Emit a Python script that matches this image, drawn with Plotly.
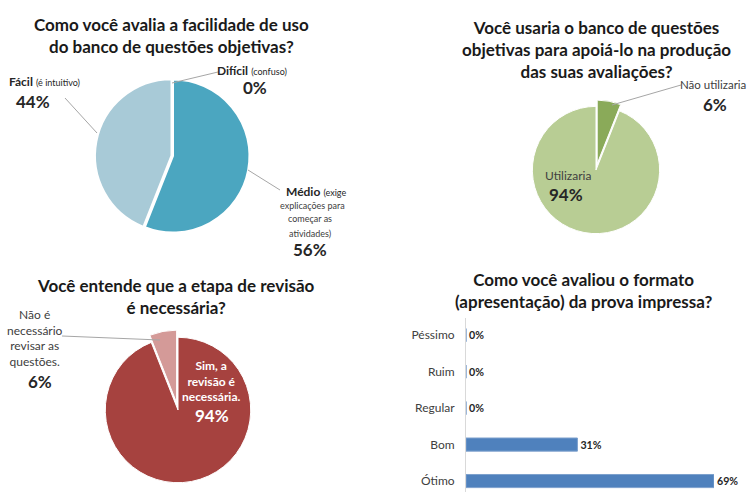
import plotly.graph_objects as go

W, H = 747, 492
FONT = "Lato"

# ---------------- data ----------------
q1_labels = ["Difícil", "Médio", "Fácil"]
q1_notes = ["(confuso)", "(exige", "explicações para", "começar as", "atividades)", "(é intuitivo)"]
q1_values = [0, 56, 44]

q2_labels = ["Não utilizaria", "Utilizaria"]
q2_values = [6, 94]

q3_labels = ["Sim, a revisão é necessária.", "Não é necessário revisar as questões."]
q3_values = [94, 6]

q4_categories = ["Péssimo", "Ruim", "Regular", "Bom", "Ótimo"]
q4_values = [0, 0, 0, 31, 69]

titles = [
    "Como você avalia a facilidade de uso<br>do banco de questões objetivas?",
    "Você usaria o banco de questões<br>objetivas para apoiá-lo na produção<br>das suas avaliações?",
    "Você entende que a etapa de revisão<br>é necessária?",
    "Como você avaliou o formato<br>(apresentação) da prova impressa?",
]


def px(x):
    return x / W


def py(y):
    return 1 - y / H


def dom(cx, cy, r):
    return dict(x=[px(cx - r), px(cx + r)], y=[py(cy + r), py(cy - r)])


fig = go.Figure()

fig.add_trace(go.Pie(
    labels=q1_labels, values=q1_values, sort=False, direction="clockwise", rotation=0,
    marker=dict(colors=["#2E7F96", "#4BA6C0", "#A8CAD7"], line=dict(color="white", width=2)),
    pull=[0, 0, 0.02], textinfo="none", domain=dom(173, 156, 78), showlegend=False,
))

fig.add_trace(go.Pie(
    labels=q2_labels, values=q2_values, sort=False, direction="clockwise", rotation=0,
    marker=dict(colors=["#8AAA59", "#B8CD94"], line=dict(color="white", width=1)),
    pull=[0.1, 0], textinfo="none", domain=dom(596, 170, 70), showlegend=False,
))

fig.add_trace(go.Pie(
    labels=q3_labels, values=q3_values, sort=False, direction="clockwise", rotation=0,
    marker=dict(colors=["#A6423F", "#D49A98"], line=dict(color="white", width=1)),
    pull=[0, 0.1], textinfo="none", domain=dom(178, 410, 80), showlegend=False,
))

fig.add_trace(go.Bar(
    y=q4_categories, x=q4_values, orientation="h",
    marker=dict(color="#4F81BD", line=dict(color="#7DA0CD", width=1)),
    text=[f"<b>{v}%</b>" for v in q4_values], textposition="outside", cliponaxis=False,
    textfont=dict(family=FONT, size=13, color="#262626"),
    xaxis="x", yaxis="y", showlegend=False, hoverinfo="x+y",
))

ann = []
for t, (x, y) in zip(titles, [(171, 35), (596, 50), (176, 296), (583, 290)]):
    ann.append(dict(text=f"<b>{t}</b>", x=px(x), y=py(y), xref="paper", yref="paper",
                    showarrow=False, font=dict(family=FONT, size=17, color="#1A1A1A"),
                    xanchor="center", yanchor="middle"))


def label(text, x, y, size=12, color="#262626", align="center", xanchor="center"):
    ann.append(dict(text=text, x=px(x), y=py(y), xref="paper", yref="paper", showarrow=False,
                    font=dict(family=FONT, size=size, color=color), align=align,
                    xanchor=xanchor, yanchor="middle"))


small = "<span style='font-size:9px'>{}</span>"
# Q1 labels
label(f"<b>{q1_labels[0]}</b> " + small.format(q1_notes[0]), 252, 70)
label(f"<b>{q1_values[0]}%</b>", 255, 88, size=17)
label(f"<b>{q1_labels[2]}</b> " + small.format(q1_notes[5]), 44, 82)
label(f"<b>{q1_values[2]}%</b>", 33, 101, size=17)
label(f"<b>{q1_labels[1]}</b> " + small.format(q1_notes[1]), 316, 191)
label(q1_notes[2], 312, 205, size=9, color="#404040")
label(q1_notes[3], 310, 219, size=9, color="#404040")
label(q1_notes[4], 310, 233, size=9, color="#404040")
label(f"<b>{q1_values[1]}%</b>", 310, 249, size=17)

# Q2 labels
label(q2_labels[0], 713, 85, size=11.5, color="#404040")
label(f"<b>{q2_values[0]}%</b>", 715, 104, size=17)
label(q2_labels[1], 568, 175, size=12, color="#404040")
label(f"<b>{q2_values[1]}%</b>", 566, 194, size=17)

# Q3 labels
label("<b>Sim, a<br>revisão é<br>necessária.</b>", 212, 381, size=12, color="white")
label(f"<b>{q3_values[0]}%</b>", 212, 415, size=17, color="white")
label("Não é<br>necessário<br>revisar as<br>questões.", 35, 338, size=12, color="#404040")
label(f"<b>{q3_values[1]}%</b>", 40, 381, size=17)

shapes = []
for (x0, y0, x1, y1) in [(172, 83, 218, 72), (65, 98, 97, 133), (248, 170, 280, 190),
                         (612, 105, 681, 85), (62, 336, 160, 340)]:
    shapes.append(dict(type="line", xref="paper", yref="paper", x0=px(x0), y0=py(y0),
                       x1=px(x1), y1=py(y1), line=dict(color="#A6A6A6", width=1)))

fig.update_layout(
    width=W, height=H, margin=dict(l=0, r=0, t=0, b=0),
    paper_bgcolor="white", plot_bgcolor="white",
    font=dict(family=FONT, color="#262626"),
    annotations=ann, shapes=shapes,
    bargap=0.64,
    xaxis=dict(domain=[px(466), px(714)], range=[0, 69], visible=False, fixedrange=True),
    yaxis=dict(domain=[0, py(318)], range=[-0.30, 4.47], type="category",
               categoryorder="array", categoryarray=q4_categories[::-1],
               showline=True, linecolor="#D9D9D9", linewidth=1, ticks="", showgrid=False,
               ticklabelstandoff=8,
               tickfont=dict(family=FONT, size=12, color="#404040"), anchor="x"),
)

fig.write_html("out.html", config={"displayModeBar": False},
               post_script="document.body.style.margin='0';document.body.style.overflow='hidden';")
